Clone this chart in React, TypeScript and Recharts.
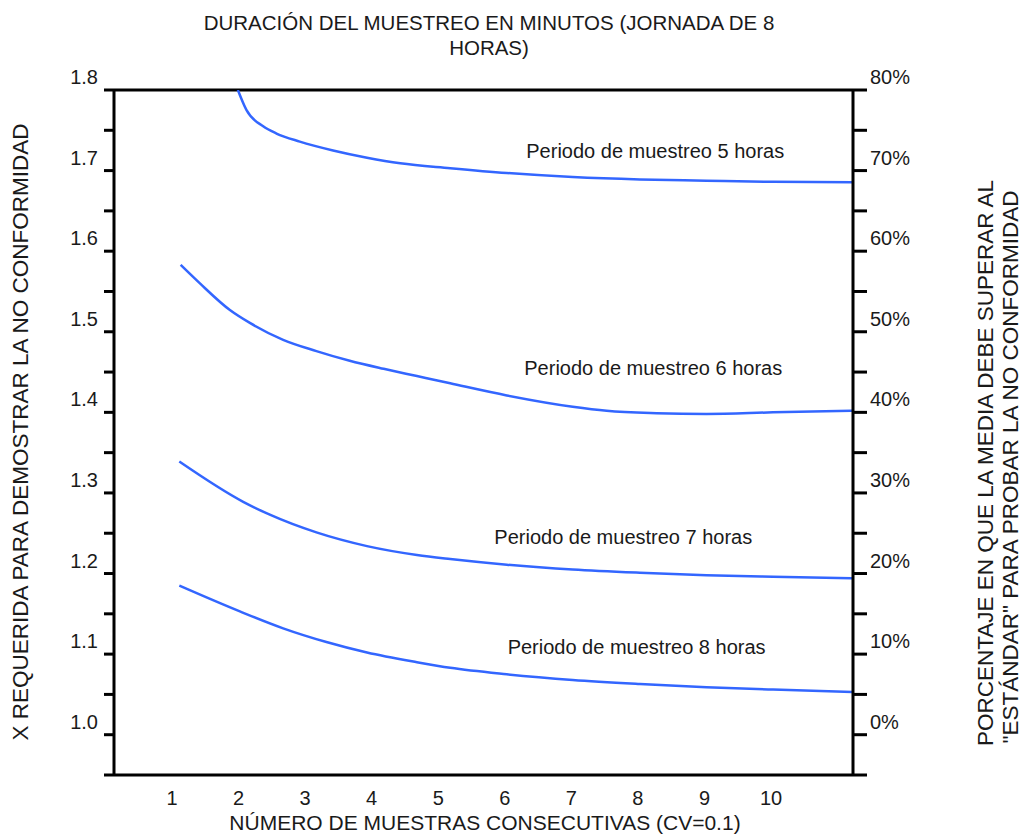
import React from "react";
import { LineChart, Line, XAxis, YAxis, ReferenceLine, ReferenceDot } from "recharts";

// ---- data ----
const xTicks = [1, 2, 3, 4, 5, 6, 7, 8, 9, 10];
const yMajorTicks = [1.0, 1.1, 1.2, 1.3, 1.4, 1.5, 1.6, 1.7, 1.8];
const yMinorTicks = [0.95, 1.05, 1.15, 1.25, 1.35, 1.45, 1.55, 1.65, 1.75];
const leftTickLabels = ["1.0", "1.1", "1.2", "1.3", "1.4", "1.5", "1.6", "1.7", "1.8"];
const rightTickLabels = ["0%", "10%", "20%", "30%", "40%", "50%", "60%", "70%", "80%"];

const curve5h = [
  { x: 1.99, y: 1.8 }, { x: 2.12, y: 1.775 }, { x: 2.37, y: 1.755 }, { x: 2.57, y: 1.746 },
  { x: 2.92, y: 1.736 }, { x: 3.42, y: 1.725 }, { x: 3.93, y: 1.716 }, { x: 4.43, y: 1.709 },
  { x: 5.18, y: 1.703 }, { x: 6.03, y: 1.697 }, { x: 7.02, y: 1.692 }, { x: 8.03, y: 1.689 },
  { x: 9.03, y: 1.6875 }, { x: 10.03, y: 1.686 }, { x: 11.22, y: 1.6855 },
];
const curve6h = [
  { x: 1.13, y: 1.583 }, { x: 1.42, y: 1.56 }, { x: 1.87, y: 1.527 }, { x: 2.17, y: 1.511 },
  { x: 2.67, y: 1.49 }, { x: 3.17, y: 1.476 }, { x: 3.67, y: 1.464 }, { x: 4.18, y: 1.454 },
  { x: 4.68, y: 1.445 }, { x: 5.18, y: 1.436 }, { x: 6.03, y: 1.421 }, { x: 7.02, y: 1.407 },
  { x: 7.53, y: 1.402 }, { x: 8.28, y: 1.399 }, { x: 9.03, y: 1.398 }, { x: 10.03, y: 1.4 },
  { x: 11.22, y: 1.402 },
];
const curve7h = [
  { x: 1.11, y: 1.339 }, { x: 2.07, y: 1.289 }, { x: 2.47, y: 1.273 }, { x: 3.17, y: 1.251 },
  { x: 3.93, y: 1.234 }, { x: 4.68, y: 1.223 }, { x: 5.18, y: 1.218 }, { x: 6.03, y: 1.211 },
  { x: 7.02, y: 1.205 }, { x: 8.03, y: 1.201 }, { x: 9.03, y: 1.198 }, { x: 10.03, y: 1.196 },
  { x: 11.22, y: 1.194 },
];
const curve8h = [
  { x: 1.11, y: 1.185 }, { x: 2.02, y: 1.153 }, { x: 2.67, y: 1.132 }, { x: 3.32, y: 1.115 },
  { x: 3.93, y: 1.102 }, { x: 4.68, y: 1.09 }, { x: 5.18, y: 1.083 }, { x: 6.03, y: 1.075 },
  { x: 7.02, y: 1.068 }, { x: 8.03, y: 1.063 }, { x: 9.03, y: 1.059 }, { x: 10.03, y: 1.056 },
  { x: 11.22, y: 1.053 },
];

const curveLabels = [
  "Periodo de muestreo 5 horas",
  "Periodo de muestreo 6 horas",
  "Periodo de muestreo 7 horas",
  "Periodo de muestreo 8 horas",
];

const titleLines = ["DURACIÓN DEL MUESTREO EN MINUTOS (JORNADA DE 8", "HORAS)"];
const xTitle = "NÚMERO DE MUESTRAS CONSECUTIVAS (CV=0.1)";
const yLeftTitle = "X REQUERIDA PARA DEMOSTRAR LA NO CONFORMIDAD";
const yRightTitle = ["PORCENTAJE EN QUE LA MEDIA DEBE SUPERAR AL", "\"ESTÁNDAR\" PARA PROBAR LA NO CONFORMIDAD"];

// ---- styles ----
const FONT = "'Liberation Sans', Arial, sans-serif";
const TXT = "#1a1a1a";
const BLUE = "#3366ff";
const FS = 20;

const allYTicks = [...yMajorTicks, ...yMinorTicks].sort((a, b) => a - b);

const findMajor = (v: number) => yMajorTicks.findIndex((t) => Math.abs(t - v) < 1e-6);

const LeftTick = (props: any) => {
  const { x, y, payload } = props;
  const i = findMajor(payload.value);
  if (i < 0) return <g />;
  return (
    <text x={x} y={y - 13} textAnchor="end" dominantBaseline="central" fontSize={FS} fill={TXT} fontFamily={FONT}>
      {leftTickLabels[i]}
    </text>
  );
};

const RightTick = (props: any) => {
  const { x, y, payload } = props;
  const i = findMajor(payload.value);
  if (i < 0) return <g />;
  return (
    <text x={x} y={y - 13} textAnchor="start" dominantBaseline="central" fontSize={FS} fill={TXT} fontFamily={FONT}>
      {rightTickLabels[i]}
    </text>
  );
};

const XTick = (props: any) => {
  const { x, y, payload } = props;
  return (
    <text x={x} y={y + 15} textAnchor="middle" dominantBaseline="central" fontSize={FS} fill={TXT} fontFamily={FONT}>
      {payload.value}
    </text>
  );
};

const annotations = [
  { x: 8.26, y: 1.725 },
  { x: 8.23, y: 1.455 },
  { x: 7.78, y: 1.2456 },
  { x: 7.98, y: 1.109 },
];

export default function App() {
  const W = 1022;
  const H = 835;
  return (
    <div style={{ position: "absolute", left: 0, top: 0, width: W, height: H, background: "#fff" }}>
      <LineChart width={W} height={H} margin={{ top: 90, right: 0, bottom: 0, left: 0 }}>
        <XAxis
          type="number"
          dataKey="x"
          domain={[0.129, 11.231]}
          allowDataOverflow
          ticks={xTicks}
          tick={<XTick />}
          tickLine={false}
          axisLine={{ stroke: "#000", strokeWidth: 3 }}
          height={60}
        />
        <YAxis
          yAxisId="left"
          type="number"
          domain={[0.95, 1.8]}
          allowDataOverflow
          ticks={allYTicks}
          interval={0}
          tick={<LeftTick />}
          tickSize={10}
          tickMargin={6}
          tickLine={{ stroke: "#000", strokeWidth: 3 }}
          axisLine={{ stroke: "#000", strokeWidth: 3 }}
          width={114}
        />
        <YAxis
          yAxisId="right"
          orientation="right"
          type="number"
          domain={[0.95, 1.8]}
          allowDataOverflow
          ticks={allYTicks}
          interval={0}
          tick={<RightTick />}
          tickSize={14}
          tickMargin={3}
          tickLine={{ stroke: "#000", strokeWidth: 3 }}
          axisLine={{ stroke: "#000", strokeWidth: 3 }}
          width={169}
        />
        <ReferenceLine yAxisId="left" y={1.8} stroke="#000" strokeWidth={3} ifOverflow="visible" />
        <Line yAxisId="left" data={curve5h} dataKey="y" type="monotone" stroke={BLUE} strokeWidth={2.5} dot={false} isAnimationActive={false} />
        <Line yAxisId="left" data={curve6h} dataKey="y" type="monotone" stroke={BLUE} strokeWidth={2.5} dot={false} isAnimationActive={false} />
        <Line yAxisId="left" data={curve7h} dataKey="y" type="monotone" stroke={BLUE} strokeWidth={2.5} dot={false} isAnimationActive={false} />
        <Line yAxisId="left" data={curve8h} dataKey="y" type="monotone" stroke={BLUE} strokeWidth={2.5} dot={false} isAnimationActive={false} />
        <Line yAxisId="right" data={curve6h} dataKey="y" stroke="none" dot={false} legendType="none" isAnimationActive={false} />
        {annotations.map((a, i) => (
          <ReferenceDot
            key={i}
            yAxisId="left"
            x={a.x}
            y={a.y}
            r={0}
            fill="none"
            stroke="none"
            ifOverflow="visible"
            label={{ value: curveLabels[i], position: "center", fontSize: FS, fill: TXT, fontFamily: FONT }}
          />
        ))}
      </LineChart>
      <svg width={W} height={H} style={{ position: "absolute", left: 0, top: 0, pointerEvents: "none" }}>
        <g fontFamily={FONT} fill={TXT}>
          <text x={489} y={22} fontSize={20.5} textAnchor="middle" dominantBaseline="central">{titleLines[0]}</text>
          <text x={489} y={47} fontSize={20.5} textAnchor="middle" dominantBaseline="central">{titleLines[1]}</text>
          <text x={485} y={822} fontSize={21} textAnchor="middle" dominantBaseline="central">{xTitle}</text>
          <text x={20} y={432} fontSize={22.5} textAnchor="middle" dominantBaseline="central" transform="rotate(-90 20 432)">{yLeftTitle}</text>
          <text x={985} y={463} fontSize={22.5} textAnchor="middle" dominantBaseline="central" transform="rotate(-90 985 463)">{yRightTitle[0]}</text>
          <text x={1010} y={467} fontSize={22.5} textAnchor="middle" dominantBaseline="central" transform="rotate(-90 1010 467)">{yRightTitle[1]}</text>
        </g>
      </svg>
    </div>
  );
}
